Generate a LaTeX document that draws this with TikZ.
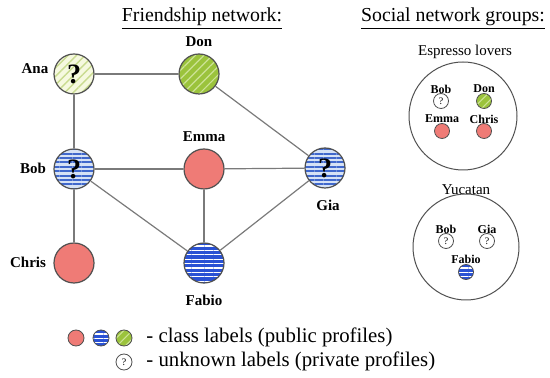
\documentclass[tikz,border=0pt]{standalone}
\usepackage{fontspec}
\setmainfont{Liberation Serif}
\usepackage{xcolor}
\definecolor{salmon}{HTML}{EF7B76}
\definecolor{deepblue}{HTML}{2A52D4}
\definecolor{paleblue}{HTML}{D6E2F5}
\definecolor{stripeblue}{HTML}{4068CC}
\definecolor{leafgreen}{HTML}{9BC33C}
\definecolor{leafstripe}{HTML}{CDE396}
\definecolor{palegreen}{HTML}{F6F9E0}
\definecolor{palestripe}{HTML}{C9DB90}
\definecolor{rimgray}{HTML}{505050}
\definecolor{edgegray}{HTML}{7A7A7A}
\usetikzlibrary{patterns.meta}

\tikzset{
  person/.style={circle, draw=rimgray, line width=0.6pt, minimum size=20pt, inner sep=0pt,
    font=\fontsize{14}{14}\selectfont\bfseries},
  tiny/.style={circle, draw=rimgray, line width=0.4pt, minimum size=7.5pt, inner sep=0pt,
    font=\fontsize{5}{5}\selectfont},
  redclass/.style={fill=salmon},
  blueclass/.style={preaction={fill=deepblue},
    pattern={Lines[angle=0,distance=2.2pt,line width=0.6pt]}, pattern color=white},
  greenclass/.style={preaction={fill=leafgreen},
    pattern={Lines[angle=45,distance=3pt,line width=0.6pt]}, pattern color=leafstripe},
  bluequery/.style={preaction={fill=paleblue},
    pattern={Lines[angle=0,distance=2.2pt,line width=1pt]}, pattern color=stripeblue},
  greenquery/.style={preaction={fill=palegreen},
    pattern={Lines[angle=45,distance=3pt,line width=0.7pt]}, pattern color=palestripe},
  personname/.style={font=\fontsize{7.5}{7.5}\selectfont\bfseries},
  smallname/.style={font=\fontsize{6}{6}\selectfont\bfseries, inner sep=0.5pt},
  heading/.style={font=\fontsize{9.9}{9.9}\selectfont},
  legendtext/.style={anchor=west, font=\fontsize{10.4}{10.4}\selectfont, inner sep=0pt},
  friend/.style={draw=edgegray, line width=0.6pt}
}

\begin{document}
\begin{tikzpicture}[x=0.5pt, y=-0.5pt]
  \useasboundingbox (0, 0) rectangle (550, 378);

  % titles
  \node[heading] (ftitle) at (202, 19) {\underline{Friendship network:}};
  \node[heading] (stitle) at (453, 19) {\underline{Social network groups:}};

  % friendship network
  \node[person, greenquery] (ana) at (74, 74) {?};
  \node[person, greenclass] (don) at (199, 74) {};
  \node[person, bluequery] (bob) at (74, 169) {?};
  \node[person, redclass] (emma) at (204, 169) {};
  \node[person, bluequery] (gia) at (325, 168) {?};
  \node[person, redclass] (chris) at (74, 263) {};
  \node[person, blueclass] (fabio) at (204, 263) {};

  \node[personname] (ananame) at (35, 69) {Ana};
  \node[personname] (donname) at (199, 42) {Don};
  \node[personname] (bobname) at (33, 168) {Bob};
  \node[personname] (emmaname) at (204, 137) {Emma};
  \node[personname] (gianame) at (328, 205) {Gia};
  \node[personname] (chrisname) at (28, 262) {Chris};
  \node[personname] (fabioname) at (204, 300) {Fabio};

  \draw[friend] (ana) -- (don);
  \draw[friend] (ana) -- (bob);
  \draw[friend] (don) -- (gia);
  \draw[friend] (bob) -- (emma);
  \draw[friend] (emma) -- (gia);
  \draw[friend] (bob) -- (chris);
  \draw[friend] (bob) -- (fabio);
  \draw[friend] (emma) -- (fabio);
  \draw[friend] (gia) -- (fabio);

  % groups
  \node[font=\fontsize{7.5}{7.5}\selectfont] (espresso) at (465, 52) {Espresso lovers};
  \node[circle, draw=rimgray, line width=0.5pt, minimum size=54pt] (espressoring) at (463, 116) {};
  \node[smallname] (ebobname) at (441, 89) {Bob};
  \node[tiny, fill=white] (ebob) at (441, 101) {?};
  \node[smallname] (edonname) at (484, 89) {Don};
  \node[tiny, greenclass] (edon) at (484, 101) {};
  \node[smallname] (eemmaname) at (442, 119) {Emma};
  \node[tiny, redclass] (eemma) at (442, 131) {};
  \node[smallname] (echrisname) at (484, 119) {Chris};
  \node[tiny, redclass] (echris) at (484, 131) {};

  \node[font=\fontsize{7.5}{7.5}\selectfont] (yucatan) at (466, 190) {Yucatan};
  \node[circle, draw=rimgray, line width=0.5pt, minimum size=53pt] (yucatanring) at (466, 247) {};
  \node[smallname] (ybobname) at (446, 229) {Bob};
  \node[tiny, fill=white] (ybob) at (446, 241) {?};
  \node[smallname] (yganame) at (487, 229) {Gia};
  \node[tiny, fill=white] (ygia) at (487, 241) {?};
  \node[smallname] (yfabioname) at (466, 259) {Fabio};
  \node[tiny, blueclass] (yfabio) at (466, 272) {};

  % legend
  \node[tiny, minimum size=8pt, redclass] (legred) at (76, 338) {};
  \node[tiny, minimum size=8pt, blueclass] (legblue) at (101, 338) {};
  \node[tiny, minimum size=8pt, greenclass] (leggreen) at (124, 338) {};
  \node[tiny, minimum size=8pt, fill=white] (legquery) at (124, 362) {?};
  \node[legendtext] (legclass) at (146, 337) {- class labels (public profiles)};
  \node[legendtext] (legunknown) at (146, 361) {- unknown labels (private profiles)};
\end{tikzpicture}
\end{document}
